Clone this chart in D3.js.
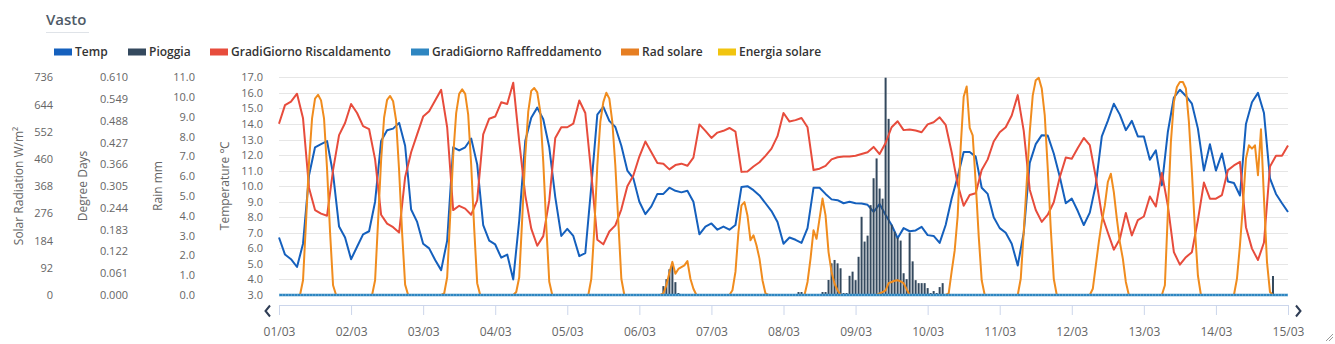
<!DOCTYPE html>
<html>
<head>
<meta charset="utf-8">
<script src="https://cdn.jsdelivr.net/npm/d3@7"></script>
<style>
  html, body { margin: 0; padding: 0; background: #ffffff; }
  svg { display: block; font-family: "Open Sans", "Noto Sans", sans-serif; }
</style>
</head>
<body>
<svg id="chart" width="1335" height="344"></svg>
<script>
// ---------------- DATA ----------------
const chartTitle = "Vasto";
const dayLabels = ["01/03","02/03","03/03","04/03","05/03","06/03","07/03","08/03","09/03","10/03","11/03","12/03","13/03","14/03","15/03"];
const legendNames = ["Temp","Pioggia","GradiGiorno Riscaldamento","GradiGiorno Raffreddamento","Rad solare","Energia solare"];

const solarTicks = [0,92,184,276,368,460,552,644,736];
const degreeDayTicks = [0,0.061,0.122,0.183,0.244,0.305,0.366,0.427,0.488,0.549,0.610];
const rainTicks = [0,1,2,3,4,5,6,7,8,9,10,11];
const tempTicks = [3,4,5,6,7,8,9,10,11,12,13,14,15,16,17];

// Temperature (°C), every 2 hours from 01/03 00:00 to 15/03 00:00
const tempValues = [
  6.7,5.6,5.3,4.8,6.3,10.7,12.5,12.7,12.9,10.8,7.4,6.7,
  5.3,6.1,6.9,7.1,9.0,12.9,13.6,13.7,14.07,12.6,8.5,7.7,
  6.3,6.0,5.25,4.6,6.5,12.5,12.3,12.5,13.06,11.4,7.5,6.5,
  6.25,5.4,5.6,4.0,7.8,12.9,14.4,15.05,14.3,12.5,9.3,6.8,
  7.25,6.8,5.5,5.7,10.0,14.6,15.1,14.2,13.8,12.6,11.0,10.5,
  9.0,8.2,8.7,9.5,9.5,9.9,9.7,9.6,9.7,9.0,6.9,7.4,
  7.6,7.2,7.4,7.2,7.5,9.95,10.0,9.74,9.4,8.9,8.4,7.7,
  6.3,6.7,6.55,6.35,7.3,9.9,9.9,9.5,9.15,9.1,8.9,9.0,
  8.9,8.88,8.8,8.35,8.85,8.15,7.5,6.65,7.3,7.1,7.15,7.38,
  6.85,6.8,6.35,7.5,9.2,10.6,12.2,12.2,11.9,9.9,9.5,8.0,
  7.3,7.0,6.3,4.9,7.0,11.5,12.7,13.28,13.25,12.1,10.6,8.9,
  9.2,8.4,7.5,8.3,10.1,13.2,14.2,15.3,14.6,13.6,14.2,13.2,
  13.2,11.7,12.3,10.06,13.5,15.7,16.2,15.8,15.3,13.7,11.0,12.7,
  11.0,12.1,10.3,10.2,9.4,14.0,15.4,16.0,14.7,10.5,9.5,8.9,
  8.34
];

// Heating degree days, every 2 hours
const heatingValues = [
  0.48,0.532,0.542,0.564,0.495,0.30,0.238,0.228,0.222,0.35,0.448,0.482,
  0.535,0.51,0.473,0.465,0.38,0.225,0.20,0.19,0.175,0.33,0.40,0.45,
  0.50,0.515,0.545,0.575,0.47,0.238,0.25,0.242,0.225,0.265,0.45,0.494,
  0.50,0.54,0.535,0.595,0.43,0.28,0.186,0.138,0.165,0.265,0.44,0.47,
  0.47,0.48,0.545,0.51,0.34,0.155,0.142,0.178,0.195,0.24,0.305,0.335,
  0.388,0.43,0.40,0.37,0.368,0.352,0.364,0.368,0.362,0.385,0.478,0.46,
  0.44,0.455,0.46,0.468,0.458,0.345,0.346,0.36,0.372,0.39,0.41,0.445,
  0.51,0.486,0.49,0.496,0.47,0.35,0.354,0.362,0.38,0.386,0.388,0.388,
  0.39,0.395,0.40,0.415,0.395,0.426,0.47,0.487,0.462,0.464,0.461,0.456,
  0.478,0.484,0.498,0.477,0.40,0.31,0.25,0.28,0.285,0.35,0.38,0.43,
  0.456,0.47,0.503,0.56,0.46,0.295,0.238,0.205,0.225,0.26,0.33,0.385,
  0.382,0.412,0.44,0.42,0.33,0.225,0.175,0.127,0.157,0.23,0.167,0.21,
  0.22,0.276,0.248,0.342,0.25,0.12,0.085,0.106,0.12,0.21,0.315,0.27,
  0.27,0.28,0.35,0.363,0.373,0.19,0.13,0.098,0.147,0.36,0.39,0.39,
  0.419
];

// Cooling degree days, daily at midnight (all zero)
const coolingValues = [0,0,0,0,0,0,0,0,0,0,0,0,0,0,0];
// Solar energy, daily at midnight (all zero)
const energyValues = [0,0,0,0,0,0,0,0,0,0,0,0,0,0,0];

// Solar radiation (W/m²), hourly
const solarValues = [
  0,0,0,0,0,0,0,0,50,247,450,596,664,677,658,596,427,213,33,0,0,0,0,0,
  0,0,0,0,0,0,0,0,50,250,455,600,660,673,655,590,420,210,35,0,0,0,0,0,
  0,0,0,0,0,0,0,5,60,265,470,615,680,695,680,610,440,225,40,0,0,0,0,0,
  0,0,0,0,0,0,0,10,60,260,470,620,690,700,685,620,450,235,45,0,0,0,0,0,
  0,0,0,0,0,0,0,0,55,224,438,585,652,684,664,585,438,247,55,0,0,0,0,0,
  0,0,0,0,0,0,0,0,5,33,75,112,72,88,94,100,115,55,21,0,0,0,0,0,
  0,0,0,0,0,0,0,16,78,213,303,314,269,185,202,168,123,50,5,0,0,0,0,0,
  0,0,0,0,0,0,0,0,44,123,219,190,258,326,269,145,78,38,16,0,0,0,0,0,
  0,0,0,0,0,0,0,0,5,10,16,40,44,48,50,46,40,20,0,0,0,0,0,0,
  0,0,0,0,0,0,0,5,80,150,267,500,670,705,565,540,380,200,50,0,0,0,0,0,
  0,0,0,0,0,0,0,55,213,382,551,675,726,734,698,607,427,224,55,0,0,0,0,0,
  0,0,0,0,0,0,0,21,100,179,247,303,382,410,348,258,179,123,44,0,0,0,0,0,
  0,0,0,0,0,0,0,33,280,517,652,703,720,720,698,585,416,224,66,0,0,0,0,0,
  0,0,0,0,0,0,0,55,168,303,461,506,495,506,405,560,326,112,10,0,0,0,0,0,
  0
];

// Rain (mm): hour offset from 01/03 00:00 and amount
const rainHours = [128,129,130,131,132,133,173,174,181,182,183,184,185,186,187,188,189,
  190,191,192,193,194,195,196,197,198,199,200,201,202,203,204,205,206,207,208,209,210,
  211,212,213,214,215,216,217,218,219,220,221,331];
const rainMm = [0.45,0.8,1.3,1.5,0.65,0.1,0.15,0.15,0.15,0.15,0.76,1.6,1.77,1.6,1.35,0.1,0.1,
  0.97,1.18,0.75,1.93,3.95,2.7,3.0,4.54,5.9,6.9,5.38,4.87,10.98,8.9,3.55,3.2,2.9,2.75,1.1,0.8,3.15,
  1.7,0.75,0.6,0.6,0.6,0.35,0.1,0.2,0.1,0.4,0.6,0.96];

// ---------------- CHART ----------------
const colors = {
  temp: "#1560bd", rain: "#34495e", heat: "#e74c3c",
  cool: "#2e86c1", solar: "#f08c1e", energy: "#f1c40f"
};
const legendColors = ["#1560bd","#34495e","#e74c3c","#2e86c1","#e67e22","#f1c40f"];

const svg = d3.select("#chart");
const plot = { left: 279, right: 1288, top: 77.3, bottom: 295 };
const HOUR = 3600 * 1000;
const t0 = Date.UTC(2024, 2, 1);
const tEnd = t0 + 14 * 24 * HOUR;

const x = d3.scaleUtc().domain([new Date(t0), new Date(tEnd)]).range([plot.left, plot.right]);
const yTemp = d3.scaleLinear().domain([3, 17]).range([plot.bottom, plot.top]);
const yRain = d3.scaleLinear().domain([0, 11]).range([plot.bottom, plot.top]);
const yDD = d3.scaleLinear().domain([0, 0.61]).range([plot.bottom, plot.top]);
const ySolar = d3.scaleLinear().domain([0, 736]).range([plot.bottom, plot.top]);

// Title
svg.append("text").attr("x", 46).attr("y", 25)
  .attr("font-size", 15).attr("font-weight", 600).attr("fill", "#4f5b67")
  .text(chartTitle);
svg.append("line").attr("x1", 46).attr("x2", 89).attr("y1", 32.5).attr("y2", 32.5)
  .attr("stroke", "#dfe3e8").attr("stroke-width", 1);

// Legend
const legendX = [54, 128, 210, 411, 621, 718];
const legend = svg.append("g");
legendNames.forEach((name, i) => {
  legend.append("rect").attr("x", legendX[i]).attr("y", 48.5).attr("width", 18).attr("height", 7)
    .attr("fill", legendColors[i]);
  legend.append("text").attr("x", legendX[i] + 21).attr("y", 56)
    .attr("font-size", 12).attr("font-weight", 600).attr("fill", "#333333").text(name);
});

// Gridlines (temperature axis)
svg.append("g").selectAll("line").data(tempTicks).join("line")
  .attr("x1", plot.left).attr("x2", plot.right)
  .attr("y1", d => Math.round(yTemp(d)) + 0.5).attr("y2", d => Math.round(yTemp(d)) + 0.5)
  .attr("stroke", "#e6e6e6").attr("stroke-width", 1);

// Y axes
function yAxis(scale, ticks, fmt, xPos) {
  const g = svg.append("g").attr("transform", `translate(${xPos},0)`)
    .call(d3.axisLeft(scale).tickValues(ticks).tickFormat(fmt).tickSize(0).tickPadding(3));
  g.select(".domain").remove();
  g.selectAll("text").attr("font-size", 11).attr("fill", "#666666")
    .attr("font-family", '"Open Sans", "Noto Sans", sans-serif');
  return g;
}
yAxis(ySolar, solarTicks, d3.format("d"), 56);
yAxis(yDD, degreeDayTicks, d3.format(".3f"), 131);
yAxis(yRain, rainTicks, d3.format(".1f"), 198);
yAxis(yTemp, tempTicks, d3.format(".1f"), 266);

const axisTitles = [
  { text: "Solar Radiation W/m²", x: 18 },
  { text: "Degree Days", x: 82 },
  { text: "Rain mm", x: 157 },
  { text: "Temperature ℃", x: 224 }
];
axisTitles.forEach(a => {
  svg.append("text").attr("transform", `translate(${a.x},186) rotate(-90)`)
    .attr("text-anchor", "middle").attr("dominant-baseline", "central")
    .attr("font-size", 12).attr("fill", "#666666").text(a.text);
});

// X axis
const dayDates = dayLabels.map((d, i) => new Date(t0 + i * 24 * HOUR));
const xAxisG = svg.append("g").attr("transform", `translate(0,305)`)
  .call(d3.axisBottom(x).tickValues(dayDates).tickFormat((d, i) => dayLabels[i]).tickSize(10).tickPadding(12));
xAxisG.select(".domain").attr("stroke", "#ccd6eb").attr("d", `M${plot.left},0.5H${plot.right}`);
xAxisG.selectAll(".tick line").attr("stroke", "#ccd6eb");
xAxisG.selectAll("text").attr("font-size", 12).attr("fill", "#666666")
  .attr("font-family", '"Open Sans", "Noto Sans", sans-serif');

// Navigation chevrons
svg.append("path").attr("d", "M270,305.5L265.5,311L270,316.5").attr("fill", "none")
  .attr("stroke", "#2f3d55").attr("stroke-width", 2);
svg.append("path").attr("d", "M1296,305.5L1300.5,311L1296,316.5").attr("fill", "none")
  .attr("stroke", "#2f3d55").attr("stroke-width", 2);

// Clip
svg.append("clipPath").attr("id", "plotClip").append("rect")
  .attr("x", plot.left - 2).attr("y", plot.top - 4)
  .attr("width", plot.right - plot.left + 4).attr("height", plot.bottom - plot.top + 6);
const series = svg.append("g").attr("clip-path", "url(#plotClip)");

const twoHourly = (vals) => vals.map((v, i) => ({ t: new Date(t0 + i * 2 * HOUR), v }));
const hourly = (vals) => vals.map((v, i) => ({ t: new Date(t0 + i * HOUR), v }));
const daily = (vals) => vals.map((v, i) => ({ t: new Date(t0 + i * 24 * HOUR), v }));

function drawLine(data, yScale, color, width, dash) {
  const line = d3.line().x(d => x(d.t)).y(d => yScale(d.v));
  const p = series.append("path").datum(data).attr("d", line).attr("fill", "none")
    .attr("stroke", color).attr("stroke-width", width)
    .attr("stroke-linejoin", "round").attr("stroke-linecap", "butt");
  if (dash) p.attr("stroke-dasharray", dash);
  return p;
}

// Temp
drawLine(twoHourly(tempValues), yTemp, colors.temp, 2);

// Rain bars
series.append("g").selectAll("rect").data(rainHours.map((h, i) => ({ t: new Date(t0 + h * HOUR), v: rainMm[i] })))
  .join("rect")
  .attr("x", d => x(d.t) - 1).attr("width", 2)
  .attr("y", d => yRain(d.v)).attr("height", d => yRain(0) - yRain(d.v))
  .attr("fill", colors.rain);

// Heating DD
drawLine(twoHourly(heatingValues), yDD, colors.heat, 2);

// Solar radiation
drawLine(hourly(solarValues), ySolar, colors.solar, 2);

// Energia solare (zero)
drawLine(daily(energyValues), ySolar, colors.energy, 2);

// Cooling DD (zero) - rendered on top along the baseline
drawLine(daily(coolingValues), yDD, colors.cool, 2.5);
drawLine(daily(coolingValues), yDD, "#ffffff", 1, "1,2").attr("stroke-opacity", 0.45);

// Resize grip
svg.append("path").attr("d", "M1326,341L1333,334M1329,341L1333,337").attr("stroke", "#999").attr("stroke-width", 1);
</script>
</body>
</html>
